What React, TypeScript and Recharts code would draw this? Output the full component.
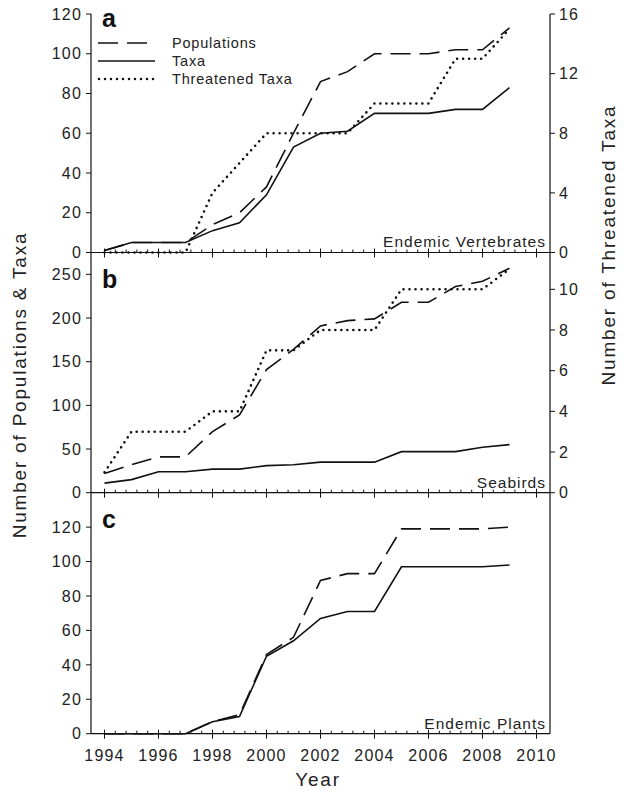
import { LineChart, Line, XAxis, YAxis } from "recharts";

const years = [1994, 1995, 1996, 1997, 1998, 1999, 2000, 2001, 2002, 2003, 2004, 2005, 2006, 2007, 2008, 2009];

// a: endemic vertebrates
const vertPopulations = [1, 5, 5, 5, 14, 20, 33, 60, 86, 91, 100, 100, 100, 102, 102, 113];
const vertTaxa = [1, 5, 5, 5, 11, 15, 29, 53, 60, 61, 70, 70, 70, 72, 72, 83];
const vertThreatened = [0, 0, 0, 0, 4, 6, 8, 8, 8, 8, 10, 10, 10, 13, 13, 15];

// b: seabirds
const birdPopulations = [22, 32, 41, 41, 70, 89, 141, 164, 191, 197, 199, 218, 218, 236, 242, 257];
const birdTaxa = [11, 15, 24, 24, 27, 27, 31, 32, 35, 35, 35, 47, 47, 47, 52, 55];
const birdThreatened = [1, 3, 3, 3, 4, 4, 7, 7, 8, 8, 8, 10, 10, 10, 10, 11];

// c: endemic plants
const plantPopulations = [0, 0, 0, 0, 7, 11, 46, 56, 89, 93, 93, 119, 119, 119, 119, 120];
const plantTaxa = [0, 0, 0, 0, 7, 10, 45, 54, 67, 71, 71, 97, 97, 97, 97, 98];

const yearTicks = [1994, 1996, 1998, 2000, 2002, 2004, 2006, 2008, 2010];
const minorTicks = yearTicks
  .slice(0, -1)
  .flatMap((y) => [0.4, 0.8, 1.2, 1.6].map((d) => +(y + d).toFixed(1)));
const xTicks = [...yearTicks, ...minorTicks].sort((a, b) => a - b);

const leftTicksA = [0, 20, 40, 60, 80, 100, 120];
const rightTicksA = [0, 4, 8, 12, 16];
const leftTicksB = [0, 50, 100, 150, 200, 250];
const rightTicksB = [0, 2, 4, 6, 8, 10];
const leftTicksC = [0, 20, 40, 60, 80, 100, 120];

const dataA = years.map((year, i) => ({
  year,
  populations: vertPopulations[i],
  taxa: vertTaxa[i],
  threatened: vertThreatened[i],
}));
const dataB = years.map((year, i) => ({
  year,
  populations: birdPopulations[i],
  taxa: birdTaxa[i],
  threatened: birdThreatened[i],
}));
const dataC = years.map((year, i) => ({
  year,
  populations: plantPopulations[i],
  taxa: plantTaxa[i],
}));

const INK = "#111";
const FONT = '"Liberation Sans", Arial, sans-serif';
const DASH = "20 9";
const DOT = "0 6";
const tickStyle = { fontSize: 16, fill: "#222", letterSpacing: 1.2 };

const XTick = (props: any) => {
  const { x, y, payload, showLabel } = props;
  const v = payload.value;
  const major = yearTicks.includes(v);
  return (
    <g>
      <line
        x1={x}
        x2={x}
        y1={major ? y - 4 : y - 3}
        y2={major ? y + 5 : y}
        stroke={INK}
        strokeWidth={1}
      />
      {major && showLabel && (
        <text x={x} y={y + 27} textAnchor="middle" fontSize={16} fill="#222" letterSpacing={1.2}>
          {v}
        </text>
      )}
    </g>
  );
};

function Panel(props: {
  top: number;
  height: number;
  marginTop: number;
  marginBottom: number;
  data: any[];
  leftDomain: number[];
  leftTicks: number[];
  rightDomain: number[];
  rightTicks: number[];
  showXLabels: boolean;
  hasThreatened: boolean;
}) {
  return (
    <div style={{ position: "absolute", left: 0, top: props.top }}>
      <LineChart
        width={624}
        height={props.height}
        data={props.data}
        margin={{ top: props.marginTop, right: 0, bottom: props.marginBottom, left: 0 }}
      >
        <XAxis
          dataKey="year"
          type="number"
          domain={[1993.5, 2010.5]}
          ticks={xTicks}
          interval={0}
          height={1}
          tickSize={0}
          tickMargin={0}
          tickLine={false}
          axisLine={{ stroke: INK, strokeWidth: 1.2 }}
          tick={<XTick showLabel={props.showXLabels} />}
        />
        <YAxis
          yAxisId="left"
          width={91}
          domain={props.leftDomain}
          ticks={props.leftTicks}
          interval={0}
          tickSize={5}
          tickMargin={4}
          axisLine={{ stroke: INK, strokeWidth: 1.2 }}
          tickLine={{ stroke: INK }}
          tick={tickStyle}
        />
        <YAxis
          yAxisId="right"
          orientation="right"
          width={74}
          domain={props.rightDomain}
          ticks={props.rightTicks}
          interval={0}
          tickSize={5}
          tickMargin={4}
          axisLine={{ stroke: INK, strokeWidth: 1.2 }}
          tickLine={{ stroke: INK }}
          tick={props.rightTicks.length ? { ...tickStyle, textAnchor: "start" } : false}
        />
        <Line
          yAxisId="left"
          type="linear"
          dataKey="populations"
          stroke={INK}
          strokeWidth={1.6}
          strokeDasharray={DASH}
          dot={false}
          isAnimationActive={false}
        />
        <Line
          yAxisId="left"
          type="linear"
          dataKey="taxa"
          stroke={INK}
          strokeWidth={1.6}
          dot={false}
          isAnimationActive={false}
        />
        {props.hasThreatened && (
          <Line
            yAxisId="right"
            type="linear"
            dataKey="threatened"
            stroke={INK}
            strokeWidth={2.6}
            strokeLinecap="round"
            strokeDasharray={DOT}
            dot={false}
            isAnimationActive={false}
          />
        )}
      </LineChart>
    </div>
  );
}

export default function App() {
  return (
    <div
      style={{
        position: "absolute",
        left: 0,
        top: 0,
        width: 624,
        height: 793,
        background: "#fff",
        fontFamily: FONT,
      }}
    >
      <Panel
        top={0}
        height={280}
        marginTop={14}
        marginBottom={26.5}
        data={dataA}
        leftDomain={[0, 120]}
        leftTicks={leftTicksA}
        rightDomain={[0, 16]}
        rightTicks={rightTicksA}
        showXLabels={false}
        hasThreatened={true}
      />
      <Panel
        top={240}
        height={280}
        marginTop={12.5}
        marginBottom={26.3}
        data={dataB}
        leftDomain={[0, 275]}
        leftTicks={leftTicksB}
        rightDomain={[0, 11.81]}
        rightTicks={rightTicksB}
        showXLabels={false}
        hasThreatened={true}
      />
      <Panel
        top={480}
        height={313}
        marginTop={12.7}
        marginBottom={58.3}
        data={dataC}
        leftDomain={[0, 140]}
        leftTicks={leftTicksC}
        rightDomain={[0, 1]}
        rightTicks={[]}
        showXLabels={true}
        hasThreatened={false}
      />
      <svg
        width={624}
        height={793}
        style={{ position: "absolute", left: 0, top: 0, pointerEvents: "none" }}
        fontFamily={FONT}
      >
        <text x={102} y={27} fontSize={25} fontWeight="bold" fill="#111">a</text>
        <text x={102} y={288} fontSize={25} fontWeight="bold" fill="#111">b</text>
        <text x={102} y={528} fontSize={25} fontWeight="bold" fill="#111">c</text>

        <line x1={98} x2={155} y1={43} y2={43} stroke={INK} strokeWidth={1.6} strokeDasharray={DASH} />
        <line x1={98} x2={155} y1={61} y2={61} stroke={INK} strokeWidth={1.6} />
        <line x1={99} x2={155} y1={79} y2={79} stroke={INK} strokeWidth={2.6} strokeLinecap="round" strokeDasharray={DOT} />
        <text x={172} y={48} fontSize={14.5} letterSpacing={0.8} fill="#222">Populations</text>
        <text x={172} y={66} fontSize={14.5} letterSpacing={0.8} fill="#222">Taxa</text>
        <text x={172} y={84} fontSize={14.5} letterSpacing={0.8} fill="#222">Threatened Taxa</text>

        <text x={546} y={247} fontSize={15.5} letterSpacing={1} textAnchor="end" fill="#222">Endemic Vertebrates</text>
        <text x={546} y={488} fontSize={15.5} letterSpacing={1} textAnchor="end" fill="#222">Seabirds</text>
        <text x={546} y={729} fontSize={15.5} letterSpacing={1} textAnchor="end" fill="#222">Endemic Plants</text>

        <text x={0} y={0} fontSize={19} letterSpacing={1.8} textAnchor="middle" fill="#222" transform="translate(26 385) rotate(-90)">
          Number of Populations &amp; Taxa
        </text>
        <text x={0} y={0} fontSize={19} letterSpacing={1.8} textAnchor="middle" fill="#222" transform="translate(615 245) rotate(-90)">
          Number of Threatened Taxa
        </text>
        <text x={318} y={786} fontSize={19} letterSpacing={1.8} textAnchor="middle" fill="#222">Year</text>
      </svg>
    </div>
  );
}
